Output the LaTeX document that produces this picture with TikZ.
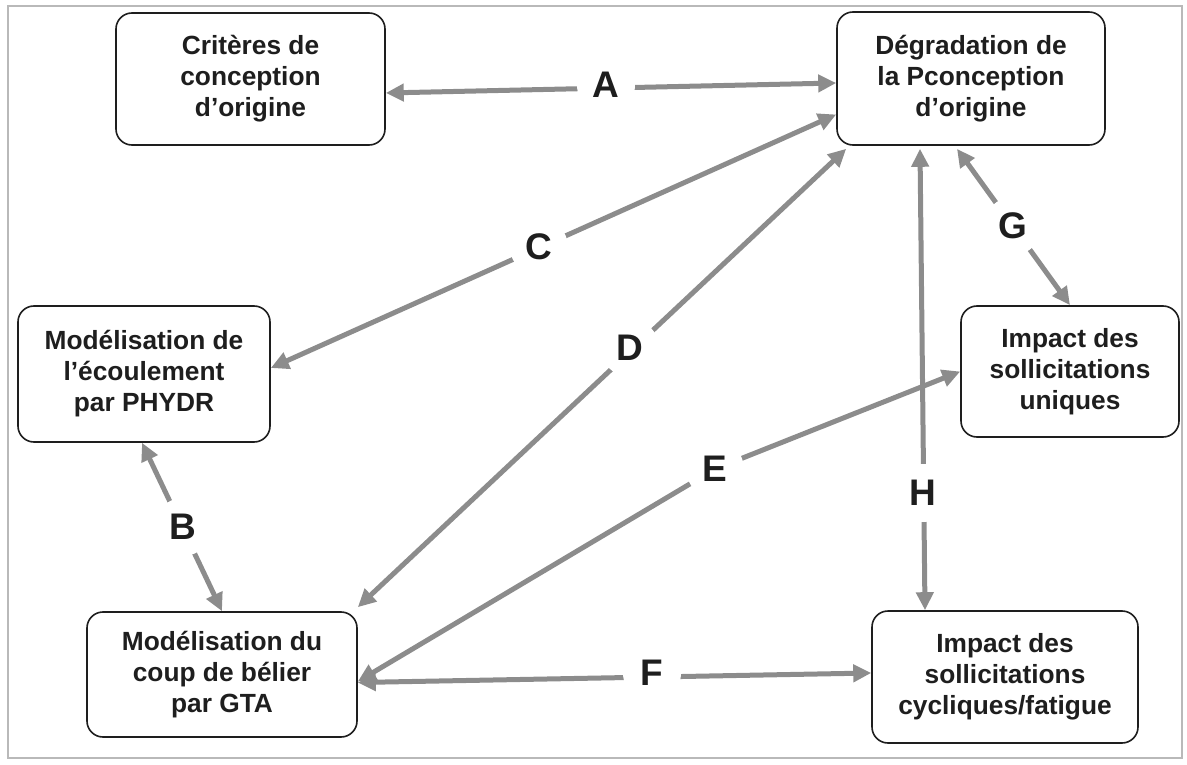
\documentclass[tikz,border=0pt]{standalone}
\usepackage{fontspec}
\setmainfont{Liberation Sans}
\usetikzlibrary{arrows.meta}
\definecolor{arr}{RGB}{140,140,140}
\definecolor{txt}{RGB}{30,30,30}
\definecolor{frame}{RGB}{185,185,185}
\begin{document}
\begin{tikzpicture}[x=1pt,y=-1pt,
  box/.style={draw=txt, line width=1.6pt, rounded corners=16pt, fill=white, align=center,
    font=\bfseries\fontsize{26.3}{31}\selectfont, text=txt, inner sep=0pt},
  link/.style={draw=arr, line width=5pt,
    {Triangle[length=18pt,width=17pt]}-{Triangle[length=18pt,width=17pt]}},
  lab/.style={fill=white, font=\bfseries\fontsize{37}{37}\selectfont, text=txt,
    circle, minimum size=58pt, inner sep=0pt}]
\useasboundingbox (0,0) rectangle (1187,765);
\draw[frame, line width=2pt] (8,6) rectangle (1182,758);

\node[box, minimum width=269pt, minimum height=132pt] (crit) at (250.5,79) {Critères de\\conception\\d’origine};
\node[box, minimum width=268pt, minimum height=133pt] (deg) at (971,78.5) {Dégradation de\\la Pconception\\d’origine};
\node[box, minimum width=252pt, minimum height=136pt] (ecoul) at (144,374) {Modélisation de\\l’écoulement\\par PHYDR};
\node[box, minimum width=270pt, minimum height=125pt] (coup) at (222,674.5) {Modélisation du\\coup de bélier\\par GTA};
\node[box, minimum width=266pt, minimum height=132pt] (cycl) at (1005,677) {Impact des\\sollicitations\\cycliques/fatigue};
\node[box, minimum width=218pt, minimum height=131pt] (uniq) at (1070,371.5) {Impact des\\sollicitations\\uniques};

\coordinate (bendE) at (715,469);

% connectors
\draw[link] ([yshift=-14pt]crit.east) -- ([yshift=-4.5pt]deg.west);
\draw[link] ([yshift=-36pt]deg.west) -- ([yshift=6pt]ecoul.east);
\draw[link] ([xshift=10pt,yshift=-3pt]deg.south west) -- ([yshift=4pt]coup.north east);
\draw[link] (uniq.west) -- (bendE) -- ([yshift=-7pt]coup.east);
\draw[link] ([yshift=-8pt]coup.east) -- ([yshift=4pt]cycl.west);
\draw[link] ([xshift=-2pt]ecoul.south) -- (coup.north);
\draw[link] ([xshift=-14pt,yshift=-3pt]deg.south) -- (uniq.north);
\draw[link] ([xshift=-51pt,yshift=-3pt]deg.south) -- ([xshift=-80pt]cycl.north);

% labels
\node[lab] (lA) at (606,85) {A};
\node[lab] (lB) at (183,527) {B};
\node[lab] (lC) at (539,247) {C};
\node[lab] (lD) at (630,348) {D};
\node[lab] (lE) at (bendE) {E};
\node[lab] (lF) at (652,673) {F};
\node[lab] (lG) at (1013,226) {G};
\node[lab] (lH) at (923,493) {H};
\end{tikzpicture}
\end{document}
